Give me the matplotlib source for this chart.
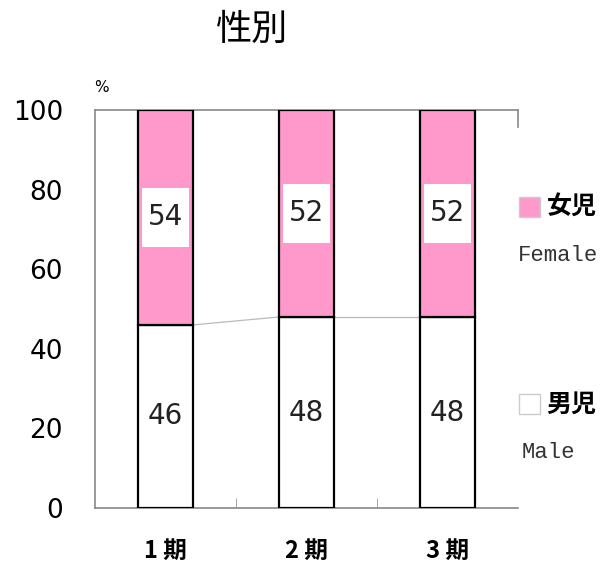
import matplotlib.pyplot as plt
from matplotlib.patches import Rectangle

plt.rcParams['font.family'] = ['Noto Sans CJK JP', 'DejaVu Sans']

periods = ['1 期', '2 期', '3 期']
male = [46, 48, 48]
female = [54, 52, 52]
legend_jp = ['女児', '男児']
legend_en = ['Female', 'Male']
colors = ['#ff99cc', 'white']

fig = plt.figure(figsize=(6.12, 5.67), dpi=100)
ax = fig.add_axes([0.155, 0.104, 0.691, 0.702])

x = range(len(periods))
w = 0.39
ax.bar(x, male, w, color='white', edgecolor='black', linewidth=1.6, zorder=3)
ax.bar(x, female, w, bottom=male, color=colors[0], edgecolor='black', linewidth=1.6, zorder=3)

# series lines joining the top of the male segments
for i in range(len(periods) - 1):
    ax.plot([i + w / 2, i + 1 - w / 2], [male[i], male[i + 1]],
            color='#bbbbbb', linewidth=0.9, zorder=2)

for i in x:
    yf = male[i] + female[i] / 2
    ax.add_patch(Rectangle((i - 0.165, yf - 7.5), 0.33, 15, facecolor='white',
                           edgecolor='none', zorder=4))
    ax.text(i, yf, str(female[i]), ha='center', va='center', fontsize=20,
            family='DejaVu Sans', color='#222222', zorder=5)
    ax.text(i, male[i] / 2, str(male[i]), ha='center', va='center', fontsize=20,
            family='DejaVu Sans', color='#222222', zorder=5)

ax.set_xlim(-0.5, 2.5)
ax.set_ylim(0, 100)
ax.set_yticks(range(0, 101, 20))
ax.set_yticklabels([str(v) for v in range(0, 101, 20)], family='DejaVu Sans', fontsize=19)
ax.tick_params(axis='y', length=0, pad=23)
ax.set_xticks(list(x))
ax.set_xticklabels(periods, fontsize=17, fontweight='bold')
ax.tick_params(axis='x', length=0, pad=22)
ax.set_xticks([0.5, 1.5], minor=True)
ax.tick_params(axis='x', which='minor', direction='in', length=7, color='#999999')

for s in ['left', 'bottom', 'top']:
    ax.spines[s].set_color('#888888')
    ax.spines[s].set_linewidth(1.2)
ax.spines['right'].set_visible(False)
ax.axvline(2.5, ymin=0.957, ymax=1, color='#888888', linewidth=1.2, clip_on=False)

fig.text(0.412, 0.948, '性別', ha='center', va='center', fontsize=26)
fig.text(0.165, 0.845, '%', ha='center', va='center', fontsize=11, family='DejaVu Sans')

# legend
ys = [0.635, 0.287]
for jp, en, c, y in zip(legend_jp, legend_en, colors, ys):
    fig.patches.append(Rectangle((0.848, y - 0.018), 0.034, 0.036, facecolor=c,
                                 edgecolor='#cccccc', linewidth=1,
                                 transform=fig.transFigure, figure=fig))
    fig.text(0.893, y, jp, ha='left', va='center', fontsize=18, fontweight='bold')
    fig.text(0.846 if en == 'Female' else 0.852, y - 0.085, en, ha='left', va='center',
             fontsize=16, family='Liberation Mono', color='#333333')

fig.savefig('out.png', dpi=100)
